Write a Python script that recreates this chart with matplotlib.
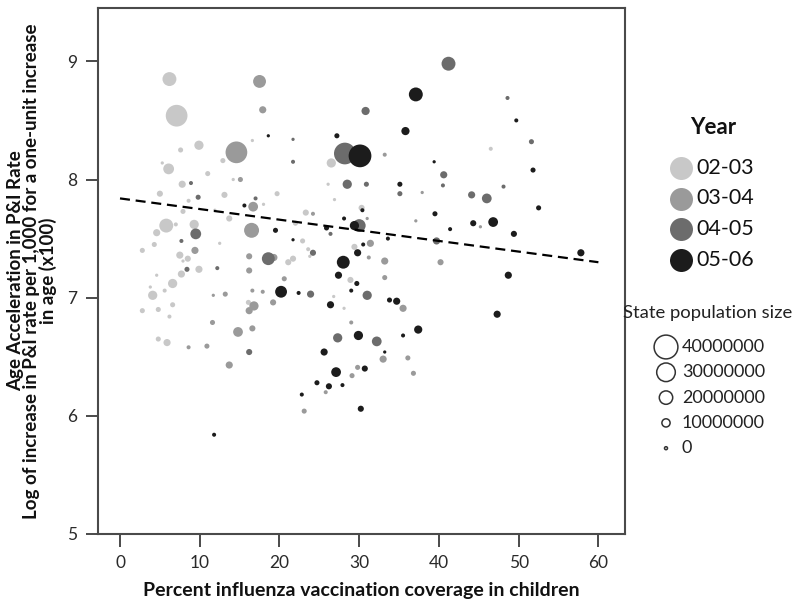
import matplotlib.pyplot as plt
import numpy as np

plt.rcParams["font.family"] = ["Lato", "DejaVu Sans"]

# ---------------------------------------------------------------
# Data
# coverage (%), log increase (x100), state population (millions)
# ---------------------------------------------------------------
years = ["02-03", "03-04", "04-05", "05-06"]
year_colors = ["#c8c8c8", "#9a9a9a", "#6c6c6c", "#1c1c1c"]

cov_0203 = [6.2, 7.1, 9.9, 7.6, 16.6, 12.9, 26.5, 5.3, 6.1, 11.0, 14.2, 7.8, 5.0, 13.1, 19.7,
            26.1, 18.0, 8.6, 7.9, 11.9, 13.7, 23.3, 26.9, 22.0, 5.8, 7.0, 4.6, 9.3, 4.3, 2.8,
            12.5, 7.5, 7.9, 8.5, 21.1, 21.7, 22.9, 23.6, 23.8, 9.9, 7.7, 4.6, 6.6, 4.1, 5.6,
            3.8, 26.8, 16.1, 28.1, 2.8, 4.8, 6.6, 6.2, 4.8, 5.9, 28.9, 29.4, 30.3, 46.5]
rate_0203 = [8.85, 8.54, 8.29, 8.25, 8.33, 8.16, 8.14, 8.14, 8.09, 8.05, 8.00, 7.96, 7.88, 7.87, 7.88,
             7.96, 7.79, 7.82, 7.73, 7.74, 7.67, 7.72, 7.83, 7.63, 7.61, 7.62, 7.55, 7.62, 7.45, 7.40,
             7.46, 7.36, 7.31, 7.33, 7.30, 7.33, 7.48, 7.41, 7.35, 7.24, 7.20, 7.19, 7.12, 7.02, 7.06,
             7.09, 7.01, 6.96, 6.91, 6.89, 6.90, 6.94, 6.84, 6.65, 6.62, 7.15, 7.43, 7.76, 8.26]
pop_0203 = [21, 36, 12, 4, 0.5, 4, 12, 0.5, 15, 4, 0.5, 8, 6, 6, 4,
            0.5, 0.5, 2, 4, 0.5, 6, 6, 0.5, 4, 21, 2, 8, 12, 4, 4,
            0.5, 8, 0.5, 6, 6, 6, 4, 2, 0.5, 8, 8, 0.5, 12, 12, 2,
            0.5, 0.5, 4, 0.5, 4, 4, 4, 2, 4, 8, 6, 6, 6, 2]

cov_0304 = [17.5, 17.9, 14.6, 15.1, 16.7, 16.5, 24.2, 9.4, 16.2, 19.3, 16.2, 20.6, 17.9, 16.6, 13.2,
            11.7, 19.2, 16.8, 16.2, 11.6, 16.6, 14.8, 8.6, 10.9, 13.7, 33.2, 37.9, 37.1, 45.2, 31.0,
            31.4, 31.2, 33.2, 40.2, 33.2, 35.5, 29.0, 33.0, 36.1, 29.8, 29.1, 36.8, 25.8, 23.1]
rate_0304 = [8.83, 8.59, 8.23, 8.00, 7.77, 7.57, 7.71, 7.40, 7.35, 7.34, 7.23, 7.16, 7.05, 7.06, 7.03,
             7.02, 6.96, 6.93, 6.89, 6.79, 6.74, 6.71, 6.58, 6.59, 6.43, 8.21, 7.89, 7.65, 7.60, 7.67,
             7.46, 7.34, 7.31, 7.30, 7.17, 6.91, 6.79, 6.48, 6.49, 6.41, 6.34, 6.36, 6.20, 6.04]
pop_0304 = [19, 8, 36, 4, 13, 23, 2, 8, 6, 8, 6, 4, 2, 2, 4,
            0.5, 6, 12, 8, 4, 6, 13, 2, 4, 8, 2, 0.5, 0.5, 0.5, 0.5,
            8, 2, 8, 6, 4, 8, 2, 8, 4, 4, 4, 4, 2, 4]

cov_0405 = [41.2, 30.8, 48.6, 51.6, 21.7, 21.7, 28.2, 28.5, 30.9, 35.1, 40.6, 40.5, 44.1, 46.0, 48.1,
            8.9, 9.8, 17.0, 9.5, 26.4, 30.0, 39.7, 7.7, 18.6, 24.2, 12.2, 23.9, 31.0, 27.3, 32.2,
            16.2, 8.4]
rate_0405 = [8.98, 8.58, 8.69, 8.32, 8.34, 8.15, 8.22, 7.96, 7.96, 7.88, 8.04, 7.95, 7.87, 7.84, 7.94,
             7.97, 7.85, 7.84, 7.54, 7.54, 7.61, 7.48, 7.48, 7.33, 7.38, 7.25, 7.03, 7.02, 6.66, 6.63,
             6.54, 7.24]
pop_0405 = [21, 10, 2, 4, 0.5, 2, 36, 12, 4, 4, 8, 2, 8, 13, 2,
            2, 4, 2, 15, 2, 19, 8, 2, 19, 6, 2, 8, 12, 12, 13,
            6, 4]

cov_0506 = [37.1, 49.7, 35.8, 18.6, 27.2, 30.1, 39.4, 51.8, 35.1, 52.5, 30.4, 39.5, 44.3, 46.8, 41.4,
            49.4, 28.1, 25.9, 29.4, 15.6, 19.5, 21.7, 33.6, 30.5, 29.8, 28.0, 57.8, 48.7, 27.4, 29.7,
            29.0, 20.2, 22.4, 33.8, 34.7, 26.4, 47.3, 37.4, 35.5, 29.9, 25.6, 33.2, 30.7, 27.1, 24.7,
            26.2, 27.9, 22.8, 30.2, 11.8]
rate_0506 = [8.72, 8.50, 8.41, 8.37, 8.37, 8.20, 8.15, 8.08, 7.96, 7.76, 7.74, 7.71, 7.63, 7.64, 7.58,
             7.54, 7.67, 7.59, 7.61, 7.78, 7.57, 7.49, 7.50, 7.45, 7.38, 7.30, 7.38, 7.19, 7.19, 7.12,
             7.06, 7.05, 7.04, 6.98, 6.97, 6.94, 6.86, 6.73, 6.68, 6.68, 6.54, 6.54, 6.40, 6.37, 6.28,
             6.25, 6.26, 6.18, 6.06, 5.84]
pop_0506 = [21, 2, 10, 0.5, 4, 38, 0.5, 4, 4, 4, 2, 4, 6, 13, 2,
            6, 2, 4, 12, 2, 4, 0.5, 2, 2, 8, 19, 8, 8, 8, 4,
            2, 17, 2, 4, 8, 8, 8, 10, 2, 12, 8, 0.5, 6, 13, 4,
            6, 2, 2, 6, 2]

# fit line
fit_intercept = 7.84
fit_slope = -0.009
fit_range = [0, 60]

size_levels = [40000000, 30000000, 20000000, 10000000, 0]


def marker_area(pop_millions):
    """Scatter area (pt^2) for a population given in millions."""
    d_px = 3 + 0.52 * np.asarray(pop_millions, dtype=float)
    return (d_px * 0.72) ** 2


fig = plt.figure(figsize=(8, 6.1), dpi=100)
ax = fig.add_axes([0.1225, 0.1246, 0.659, 0.862])

series = [
    (cov_0203, rate_0203, pop_0203),
    (cov_0304, rate_0304, pop_0304),
    (cov_0405, rate_0405, pop_0405),
    (cov_0506, rate_0506, pop_0506),
]
for (cx, ry, pp), col in zip(series, year_colors):
    ax.scatter(cx, ry, s=marker_area(pp), color=col, linewidths=0, zorder=3)

xs = np.array(fit_range, dtype=float)
ax.plot(xs, fit_intercept + fit_slope * xs, color="black", lw=1.6,
        dashes=(4.5, 2.6), zorder=4)

ax.set_xlim(-2.76, 63.36)
ax.set_ylim(5, 9.45)
ax.set_xticks([0, 10, 20, 30, 40, 50, 60])
ax.set_yticks([5, 6, 7, 8, 9])
for sp in ax.spines.values():
    sp.set_color("#4a4a4a")
    sp.set_linewidth(1.5)
ax.tick_params(direction="out", length=9, width=1.4, color="#4a4a4a",
               labelsize=12.5, labelcolor="#2a2a2a", pad=6)

ax.set_xlabel("Percent influenza vaccination coverage in children",
              fontsize=14, fontweight="bold", labelpad=8, color="#111111")
fig.text(32 / 800, 1 - 271 / 610,
         "Age Acceleration in P&I Rate\n"
         "Log of increase in P&I rate per 1,000 for a one-unit increase\n"
         "in age (x100)",
         rotation=90, ha="center", va="center", multialignment="center",
         fontsize=13.5, fontweight="bold", linespacing=0.9, color="#111111")

# legend drawn in a pixel-coordinate overlay
lax = fig.add_axes([0, 0, 1, 1], facecolor="none")
lax.set_xlim(0, 800)
lax.set_ylim(610, 0)
lax.axis("off")

lax.text(713, 128, "Year", ha="center", va="center", fontsize=16,
         fontweight="bold", color="#111111")
for i, (lab, col) in enumerate(zip(years, year_colors)):
    yy = 168 + 30.5 * i
    lax.scatter([681], [yy], s=(23 * 0.72) ** 2, color=col, linewidths=0)
    lax.text(696, yy, lab, ha="left", va="center", fontsize=15.5, color="#111111")

lax.text(708, 313, "State population size", ha="center", va="center",
         fontsize=13.3, color="#222222")
for i, lvl in enumerate(size_levels):
    yy = 347 + 25.3 * i
    lax.scatter([666], [yy], s=marker_area(lvl / 1e6), facecolors="none",
                edgecolors="#333333", linewidths=1.1)
    lax.text(682, yy, f"{lvl}", ha="left", va="center", fontsize=13,
             color="#222222")

fig.savefig("out.png", dpi=100)
